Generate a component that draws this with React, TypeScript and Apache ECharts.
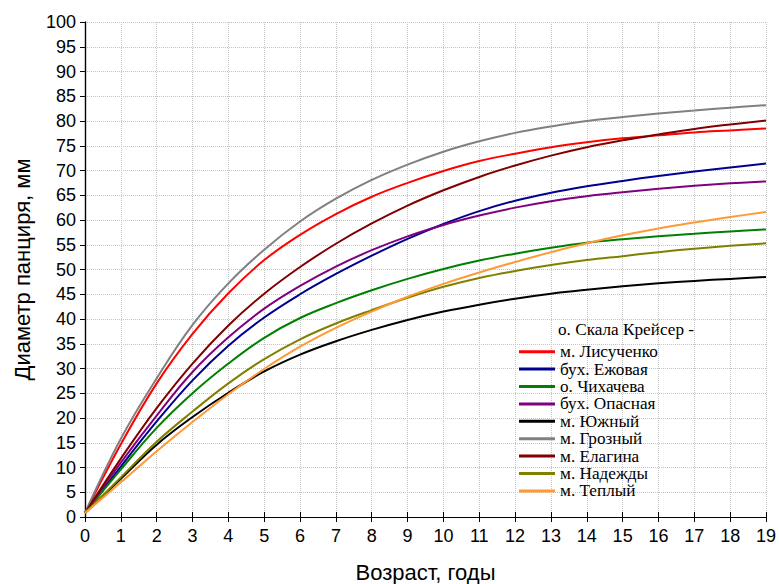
import React, { useEffect, useRef } from "react";
import * as echarts from "echarts";

const ages = [0, 1, 2, 3, 4, 5, 6, 7, 8, 9, 10, 11, 12, 13, 14, 15, 16, 17, 18, 19];

const lisuchenko = [0.8, 14.7, 27.0, 37.0, 45.2, 51.9, 57.0, 61.2, 64.7, 67.5, 69.9, 71.9, 73.4, 74.7, 75.7, 76.5, 77.1, 77.7, 78.1, 78.5];
const ezhovaya = [0.8, 10.2, 19.3, 27.6, 34.6, 40.3, 45.0, 49.1, 52.8, 56.2, 59.2, 61.8, 63.9, 65.5, 66.8, 67.9, 68.9, 69.8, 70.6, 71.4];
const chikhacheva = [0.8, 9.6, 18.0, 25.0, 31.0, 36.2, 40.2, 43.2, 45.8, 48.1, 50.1, 51.8, 53.2, 54.4, 55.4, 56.1, 56.7, 57.2, 57.7, 58.1];
const opasnaya = [0.8, 11.0, 20.5, 29.3, 36.3, 42.1, 46.7, 50.6, 53.9, 56.7, 59.0, 60.9, 62.5, 63.8, 64.8, 65.6, 66.3, 66.9, 67.4, 67.8];
const yuzhny = [0.8, 7.7, 14.6, 20.2, 25.1, 29.4, 32.8, 35.5, 37.8, 39.8, 41.5, 42.9, 44.1, 45.1, 45.9, 46.6, 47.2, 47.7, 48.1, 48.5];
const grozny = [0.8, 15.8, 28.0, 38.8, 47.2, 54.0, 59.7, 64.3, 68.1, 71.2, 73.8, 75.9, 77.6, 78.9, 80.0, 80.8, 81.5, 82.1, 82.7, 83.2];
const elagina = [0.8, 11.8, 22.0, 31.0, 38.7, 45.1, 50.5, 55.2, 59.3, 62.9, 66.0, 68.7, 71.0, 73.0, 74.7, 76.1, 77.3, 78.4, 79.3, 80.1];
const nadezhdy = [0.8, 8.0, 15.2, 21.3, 27.0, 31.9, 35.9, 39.1, 41.8, 44.3, 46.5, 48.3, 49.7, 50.9, 51.9, 52.7, 53.5, 54.2, 54.8, 55.3];
const teply = [0.8, 7.0, 13.3, 19.2, 24.8, 29.9, 34.4, 38.2, 41.5, 44.5, 47.1, 49.4, 51.5, 53.5, 55.3, 56.9, 58.3, 59.5, 60.6, 61.6];

const seriesNames = [
  "м. Лисученко",
  "бух. Ежовая",
  "о. Чихачева",
  "бух. Опасная",
  "м. Южный",
  "м. Грозный",
  "м. Елагина",
  "м. Надежды",
  "м. Теплый",
];
const seriesValues = [lisuchenko, ezhovaya, chikhacheva, opasnaya, yuzhny, grozny, elagina, nadezhdy, teply];
const seriesColors = ["#ff0000", "#000090", "#008000", "#800080", "#000000", "#808080", "#800000", "#808000", "#ff9933"];

const xTicks = { min: 0, max: 19, interval: 1 };
const yTicks = { min: 0, max: 100, interval: 5 };

const legendHeader = "о. Скала Крейсер -";
const xTitle = "Возраст, годы";
const yTitle = "Диаметр панциря, мм";

export default function App() {
  const ref = useRef<HTMLDivElement>(null);
  useEffect(() => {
    if (!ref.current) return;
    const chart = echarts.init(ref.current, null, { renderer: "svg" });
    const sans = "'Liberation Sans', Arial, sans-serif";
    const serif = "'Liberation Serif', 'Times New Roman', serif";
    const grid = { left: 85, right: 13, top: 22, bottom: 67, containLabel: false, outerBoundsMode: "none" };
    const split = { show: true, lineStyle: { type: "dotted" as const, color: "#c4c4c4", width: 1 } };
    chart.setOption({
      animation: false,
      backgroundColor: "#ffffff",
      grid,
      xAxis: [
        {
          type: "value",
          ...xTicks,
          name: xTitle,
          nameLocation: "middle",
          nameGap: 44,
          nameTextStyle: { fontFamily: sans, fontSize: 22, color: "#000" },
          axisLine: { show: true, lineStyle: { color: "#000", width: 1.2 } },
          axisTick: { show: true, inside: true, length: 5, lineStyle: { color: "#000" } },
          axisLabel: { fontFamily: sans, fontSize: 18, color: "#000", margin: 10 },
          splitLine: split,
        },
        {
          type: "value",
          position: "top",
          ...xTicks,
          axisLine: { show: true, lineStyle: { color: "#000", width: 1.2 } },
          axisTick: { show: true, inside: true, length: 5, lineStyle: { color: "#000" } },
          axisLabel: { show: false },
          splitLine: { show: false },
        },
      ],
      yAxis: [
        {
          type: "value",
          ...yTicks,
          name: yTitle,
          nameLocation: "middle",
          nameGap: 52,
          nameTextStyle: { fontFamily: sans, fontSize: 22, color: "#000" },
          axisLine: { show: true, lineStyle: { color: "#000", width: 1.2 } },
          axisTick: { show: true, inside: false, length: 5, lineStyle: { color: "#000" } },
          axisLabel: { fontFamily: sans, fontSize: 18, color: "#000", margin: 9 },
          splitLine: split,
        },
        {
          type: "value",
          position: "right",
          ...yTicks,
          axisLine: { show: true, lineStyle: { color: "#000", width: 1.2 } },
          axisTick: { show: true, inside: true, length: 5, lineStyle: { color: "#000" } },
          axisLabel: { show: false },
          splitLine: { show: false },
        },
      ],
      legend: {
        orient: "vertical",
        left: 514,
        top: 338,
        itemWidth: 36,
        itemHeight: 3,
        itemGap: 0,
        icon: "rect",
        textStyle: { fontFamily: serif, fontSize: 17.2, color: "#000", lineHeight: 17.4 },
        data: seriesNames,
      },
      graphic: [
        {
          type: "text",
          left: 558,
          top: 321,
          style: { text: legendHeader, font: `17.2px ${serif}`, fill: "#000" },
        },
      ],
      series: seriesNames.map((name, i) => ({
        name,
        type: "line",
        data: ages.map((a, j) => [a, seriesValues[i][j]]),
        smooth: 0.4,
        showSymbol: false,
        symbol: "none",
        lineStyle: { width: 2, color: seriesColors[i] },
        itemStyle: { color: seriesColors[i] },
        z: 3,
      })),
    });
    return () => chart.dispose();
  }, []);
  return <div ref={ref} style={{ width: 779, height: 584, position: "absolute", left: 0, top: 0 }} />;
}
